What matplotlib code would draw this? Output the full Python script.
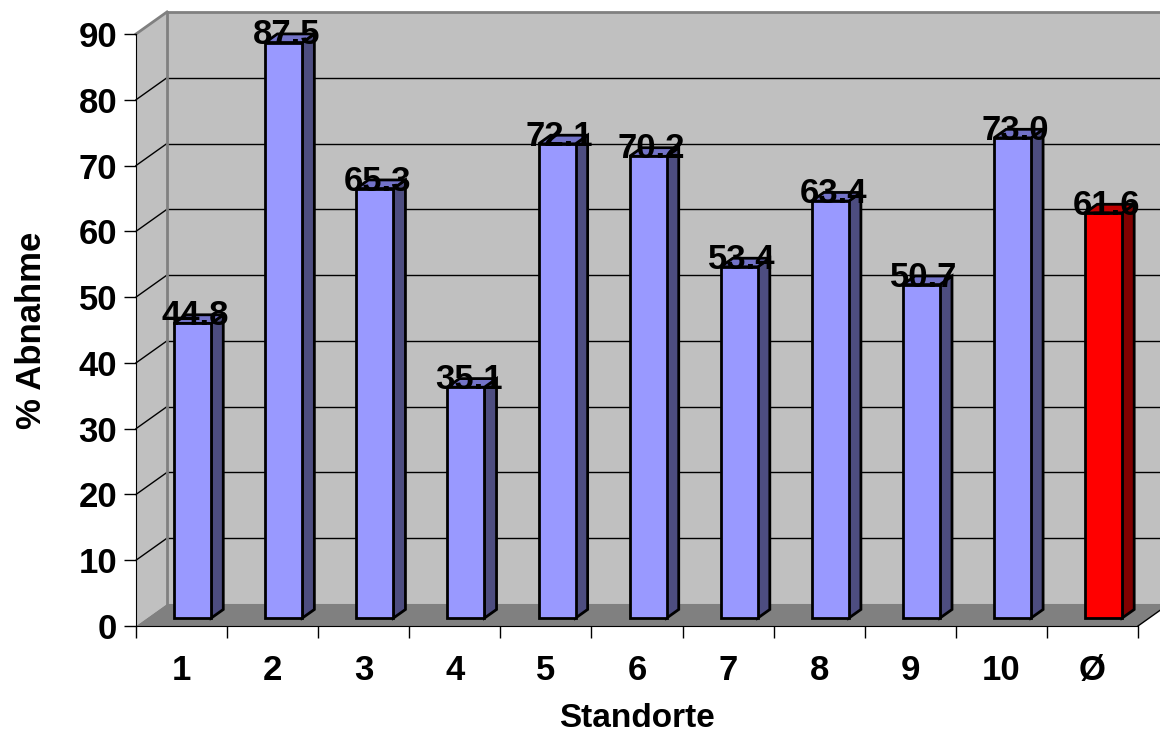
import matplotlib
matplotlib.use("Agg")
import matplotlib.pyplot as plt
from matplotlib.patches import Polygon

# Abnahme je Standort in %, letzter Wert = Mittelwert
standorte = ["1", "2", "3", "4", "5", "6", "7", "8", "9", "10", "Ø"]
abnahme = [44.8, 87.5, 65.3, 35.1, 72.1, 70.2, 53.4, 63.4, 50.7, 73.0, 61.6]
y_ticks = [0, 10, 20, 30, 40, 50, 60, 70, 80, 90]

plt.rcParams["font.family"] = ["Liberation Sans", "DejaVu Sans"]
plt.rcParams["font.weight"] = "bold"

fig = plt.figure(figsize=(11.6, 7.38), dpi=100)
ax = fig.add_axes([136 / 1160, 1 - 626 / 738, 1002 / 1160, 592 / 738])
n = len(standorte)
ymax = 90
ax.set_xlim(0, n)
ax.set_ylim(0, ymax)

# Tiefenversatz der Rückwand (in Datenkoordinaten)
dx, dy = 0.34, 3.35
f1, f2 = 0.36, 0.75  # Vorder- und Hinterkante der Säulen
bw = 0.406

wall = "#c0c0c0"
floor = "#808080"
edge = "#808080"

# Rückwand, linke Seitenwand, Boden
ax.add_patch(Polygon([(dx, dy), (n + dx, dy), (n + dx, ymax + dy), (dx, ymax + dy)],
                     closed=True, fc=wall, ec="none", zorder=0, clip_on=False))
ax.add_patch(Polygon([(0, 0), (dx, dy), (dx, ymax + dy), (0, ymax)],
                     closed=True, fc=wall, ec="none", zorder=0, clip_on=False))
ax.add_patch(Polygon([(0, 0), (n, 0), (n + dx, dy), (dx, dy)],
                     closed=True, fc=floor, ec="none", zorder=1, clip_on=False))

# Gitterlinien auf Rück- und Seitenwand
for v in y_ticks[1:-1]:
    ax.plot([dx, n + dx], [v + dy, v + dy], color="black", lw=1, zorder=1, clip_on=False)
for v in y_ticks[1:]:
    ax.plot([0, dx], [v, v + dy], color="black" if v < ymax else edge,
            lw=1 if v < ymax else 2, zorder=1, clip_on=False)
ax.plot([dx, n + dx], [ymax + dy, ymax + dy], color=edge, lw=2, zorder=1, clip_on=False)
ax.plot([dx, dx], [dy, ymax + dy], color=edge, lw=2, zorder=1, clip_on=False)
ax.plot([n, n + dx], [0, dy], color="black", lw=1, zorder=2, clip_on=False)

# Säulen
for i, (lab, v) in enumerate(zip(standorte, abnahme)):
    if lab == "Ø":
        c_front, c_side, c_top = "#ff0000", "#800000", "#c00000"
    else:
        c_front, c_side, c_top = "#9999ff", "#4d4d80", "#7373c8"
    cx = i + 0.5 + f1 * dx
    x0, x1 = cx - bw / 2, cx + bw / 2
    yb = f1 * dy
    ddx, ddy = (f2 - f1) * dx, (f2 - f1) * dy
    side = [(x1, yb), (x1 + ddx, yb + ddy), (x1 + ddx, v + yb + ddy), (x1, v + yb)]
    top = [(x0, v + yb), (x1, v + yb), (x1 + ddx, v + yb + ddy), (x0 + ddx, v + yb + ddy)]
    front = [(x0, yb), (x1, yb), (x1, v + yb), (x0, v + yb)]
    for pts, c in ((side, c_side), (top, c_top), (front, c_front)):
        ax.add_patch(Polygon(pts, closed=True, fc=c, ec="black", lw=2,
                             joinstyle="miter", zorder=3, clip_on=False))
    ax.text(cx + 0.03, v + yb - 0.3, f"{v:.1f}", ha="center", va="baseline",
            fontsize=25, fontweight="bold", zorder=5)

# Achsen
for s in ("top", "right"):
    ax.spines[s].set_visible(False)
ax.spines["left"].set_color("black")
ax.spines["bottom"].set_color("black")
ax.spines["left"].set_zorder(4)
ax.spines["bottom"].set_zorder(4)
ax.set_yticks(y_ticks)
ax.set_xticks(range(n + 1))
ax.set_xticklabels([])
ax.set_xticks([i + 0.5 for i in range(n)], minor=True)
ax.set_xticklabels(standorte, minor=True)
ax.tick_params(axis="y", direction="out", length=8.5, width=1, pad=5, labelsize=25)
ax.tick_params(axis="x", which="major", direction="out", length=8.5, width=1)
ax.tick_params(axis="x", which="minor", length=0, pad=20, labelsize=25)
for t in ax.get_yticklabels() + ax.get_xticklabels(minor=True):
    t.set_fontweight("bold")

ax.set_ylabel("% Abnahme", fontsize=25, fontweight="bold", labelpad=22)
ax.set_xlabel("Standorte", fontsize=24, fontweight="bold", labelpad=12)

fig.savefig("out.png", dpi=100)
